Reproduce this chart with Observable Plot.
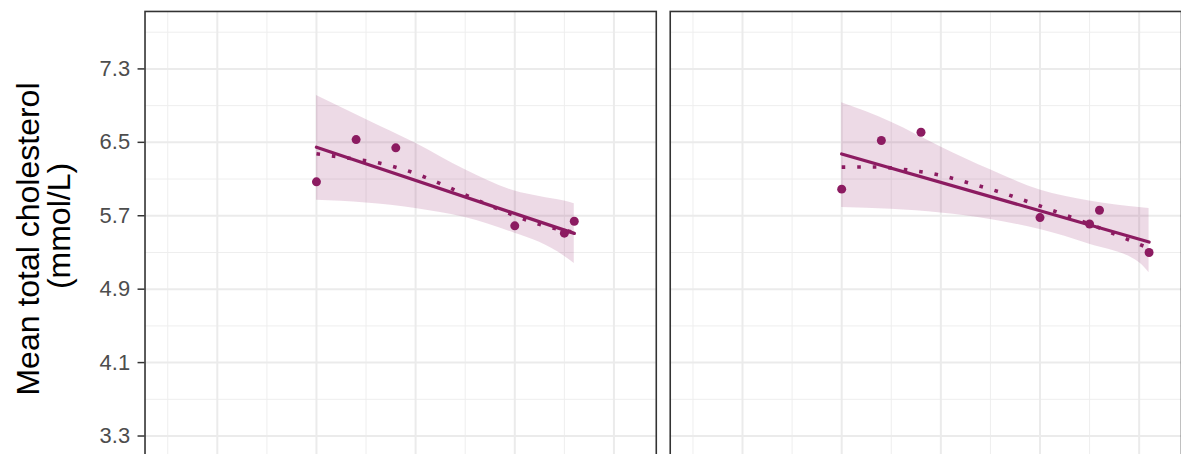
<!DOCTYPE html>
<html><head><meta charset="utf-8">
<script src="https://cdn.jsdelivr.net/npm/d3@7"></script>
<script src="https://cdn.jsdelivr.net/npm/@observablehq/plot@0.6"></script>
<style>
html,body{margin:0;padding:0;background:#fff;overflow:hidden;}
#wrap{position:relative;width:1181px;height:454px;overflow:hidden;background:#fff;}
#chart{position:absolute;left:0;top:0;}
#ylab{position:absolute;left:0;top:0;}
</style></head><body>
<div id="wrap"><div id="chart"></div><svg id="ylab" width="120" height="454"></svg></div>
<script>
// ---- data ----
const panels = ["Panel 1", "Panel 2"];
const mainColor = "#8C1B61";

// observed means
const ptYearL = [1980, 1984, 1988, 2000, 2005, 2006];
const ptValL  = [6.07, 6.53, 6.44, 5.59, 5.51, 5.64];
const ptYearR = [1980, 1984, 1988, 2000, 2005, 2006, 2011];
const ptValR  = [5.99, 6.52, 6.61, 5.68, 5.61, 5.76, 5.30];

// linear fit (solid)
const fitYearL = [1980, 2006];
const fitValL  = [6.446, 5.508];
const fitYearR = [1980, 2011];
const fitValR  = [6.373, 5.414];

// dotted curve
const dotYearL = [1980, 1983, 1986.5, 1989.6, 1992.5, 1995.5, 1998.5, 2001.4, 2004.5, 2006];
const dotValL  = [6.375, 6.33, 6.27, 6.175, 6.05, 5.905, 5.765, 5.645, 5.55, 5.52];
const dotYearR = [1980, 1983.4, 1986.6, 1989.8, 1992.8, 1995.9, 1998.9, 2002, 2005, 2007.9, 2011];
const dotValR  = [6.23, 6.232, 6.2, 6.145, 6.058, 5.96, 5.849, 5.729, 5.61, 5.483, 5.345];

// confidence band
const bandYearL = [1980, 1985, 1990, 1995, 2000, 2002.5, 2005, 2006];
const bandHiL   = [7.01, 6.75, 6.49, 6.20, 5.97, 5.91, 5.86, 5.83];
const bandLoL   = [5.87, 5.84, 5.78, 5.68, 5.51, 5.41, 5.26, 5.18];
const bandYearR = [1980, 1985, 1990, 1995, 2000, 2005, 2010, 2011];
const bandHiR   = [6.93, 6.72, 6.45, 6.20, 5.98, 5.86, 5.79, 5.78];
const bandLoR   = [5.79, 5.77, 5.73, 5.66, 5.55, 5.39, 5.19, 5.08];

// axes / grid
const yTicks  = [3.3, 4.1, 4.9, 5.7, 6.5, 7.3];
const yMinor  = [2.9, 3.7, 4.5, 5.3, 6.1, 6.9, 7.7];
const xMajor  = [1970, 1980, 1990, 2000, 2010];
const xMinor  = [1965, 1975, 1985, 1995, 2005];
const xDomain = [1962.71, 2014.27];
const yDomain = [2.833, 7.926];
const yTitle1 = "Mean total cholesterol";
const yTitle2 = "(mmol/L)";

// ---- tables ----
const mk = (years, vals, panel) => years.map((y, i) => ({panel, year: y, value: vals[i]}));
const points = [...mk(ptYearL, ptValL, panels[0]), ...mk(ptYearR, ptValR, panels[1])];
const fits = [...mk(fitYearL, fitValL, panels[0]), ...mk(fitYearR, fitValR, panels[1])];
const dots = [...mk(dotYearL, dotValL, panels[0]), ...mk(dotYearR, dotValR, panels[1])];
const band = [
  ...bandYearL.map((y, i) => ({panel: panels[0], year: y, lo: bandLoL[i], hi: bandHiL[i]})),
  ...bandYearR.map((y, i) => ({panel: panels[1], year: y, lo: bandLoR[i], hi: bandHiR[i]}))
];

const chart = Plot.plot({
  width: 1185, height: 480,
  marginLeft: 144, marginRight: 0, marginTop: 11, marginBottom: 0,
  style: {fontFamily: "'Liberation Sans', Arial, sans-serif", fontSize: "22px", background: "#fff", overflow: "visible"},
  fx: {domain: panels, paddingInner: 0.0275, paddingOuter: 0, axis: null, label: null},
  x: {domain: xDomain, axis: null},
  y: {domain: yDomain, axis: null},
  marks: [
    Plot.ruleY(yMinor, {stroke: "#EEEEEE", strokeWidth: 1}),
    Plot.ruleX(xMinor, {stroke: "#EEEEEE", strokeWidth: 1}),
    Plot.ruleY(yTicks, {stroke: "#EBEBEB", strokeWidth: 2}),
    Plot.ruleX(xMajor, {stroke: "#EBEBEB", strokeWidth: 2}),
    Plot.areaY(band, {x: "year", y1: "lo", y2: "hi", fx: "panel", fill: mainColor, fillOpacity: 0.16, curve: "monotone-x"}),
    Plot.line(dots, {x: "year", y: "value", fx: "panel", stroke: mainColor, strokeWidth: 3.6, strokeDasharray: "3.6,12", strokeLinecap: "butt", curve: "monotone-x"}),
    Plot.line(fits, {x: "year", y: "value", fx: "panel", stroke: mainColor, strokeWidth: 3.3}),
    Plot.dot(points, {x: "year", y: "value", fx: "panel", r: 4.5, fill: mainColor, stroke: "none"}),
    Plot.frame({stroke: "#333333", strokeWidth: 1.6}),
    Plot.axisY(yTicks, {tickSize: 7, tickPadding: 8, stroke: "#333333", strokeWidth: 1.5, fill: "#4D4D4D", tickFormat: d => d.toFixed(1), label: null, fontSize: 22})
  ]
});
document.getElementById("chart").appendChild(chart);

const lab = d3.select("#ylab");
lab.append("text")
  .attr("transform", "translate(39,239) rotate(-90)")
  .attr("text-anchor", "middle")
  .attr("font-family", "'Liberation Sans', Arial, sans-serif")
  .attr("font-size", 32).attr("fill", "#000")
  .text(yTitle1);
lab.append("text")
  .attr("transform", "translate(70,226) rotate(-90)")
  .attr("text-anchor", "middle")
  .attr("font-family", "'Liberation Sans', Arial, sans-serif")
  .attr("font-size", 32).attr("fill", "#000")
  .text(yTitle2);
</script>
</body></html>
